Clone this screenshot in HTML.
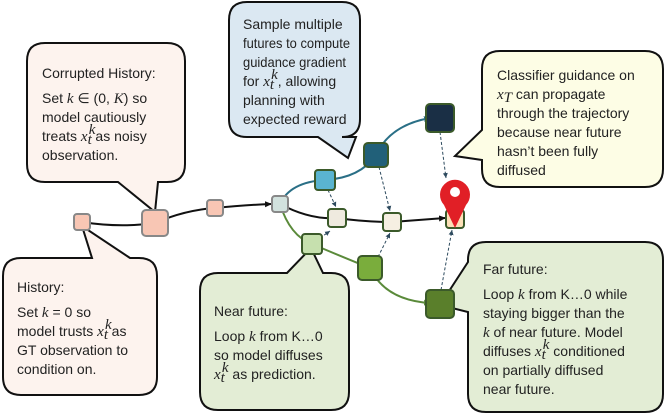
<!DOCTYPE html>
<html><head><meta charset="utf-8"><style>
body{margin:0;background:#fff}
svg text{font-family:"Liberation Sans",sans-serif;font-size:14px;fill:#222}
.m{font-family:"Liberation Serif",serif;font-style:italic;font-size:15px}
</style></head><body>
<svg width="664" height="414" viewBox="0 0 664 414" xmlns="http://www.w3.org/2000/svg">
<defs>
<marker id="ab" markerWidth="8" markerHeight="8" refX="6" refY="3" orient="auto" markerUnits="userSpaceOnUse"><path d="M0,0 L7,3 L0,6z" fill="#111"/></marker>
<marker id="at" markerWidth="8" markerHeight="8" refX="6" refY="3" orient="auto" markerUnits="userSpaceOnUse"><path d="M0,0 L7,3 L0,6z" fill="#2a6f86"/></marker>
<marker id="ag" markerWidth="8" markerHeight="8" refX="6" refY="3" orient="auto" markerUnits="userSpaceOnUse"><path d="M0,0 L7,3 L0,6z" fill="#5a8a3a"/></marker>
<marker id="ad" markerWidth="6" markerHeight="6" refX="5" refY="2.5" orient="auto" markerUnits="userSpaceOnUse"><path d="M0,0 L5,2.5 L0,5z" fill="#2d4a5e"/></marker>
</defs>

<path d="M45,43 H167 Q185,43 185,61 V164 Q185,182 167,182 H158 L155,212 L118,182 H45 Q27,182 27,164 V61 Q27,43 45,43Z" fill="#fdf3ee" stroke="#111" stroke-width="2"/>
<path d="M247,2 H342 Q360,2 360,20 V119 Q360,137 342,137 H356 L348,158 L318,137 H247 Q229,137 229,119 V20 Q229,2 247,2Z" fill="#dbe8f2" stroke="#111" stroke-width="2"/>
<path d="M500,51 H645 Q663,51 663,69 V169 Q663,187 645,187 H500 Q482,187 482,169 V160 L455,156 L482,130 V69 Q482,51 500,51Z" fill="#fdfde5" stroke="#111" stroke-width="2"/>
<path d="M21,258 H92 L82,226 L130,258 H139 Q157,258 157,276 V377 Q157,395 139,395 H21 Q3,395 3,377 V276 Q3,258 21,258Z" fill="#fdf3ee" stroke="#111" stroke-width="2"/>
<path d="M218,273 H287 L311,248 L323,273 H331 Q349,273 349,291 V392 Q349,410 331,410 H218 Q200,410 200,392 V291 Q200,273 218,273Z" fill="#e3edd5" stroke="#111" stroke-width="2"/>
<path d="M486,242 H645 Q663,242 663,260 V394 Q663,412 645,412 H486 Q468,412 468,394 V312 L440,305 L468,262 V260 Q468,242 486,242Z" fill="#e3edd5" stroke="#111" stroke-width="2"/>

<text x="42" y="78">Corrupted History:</text>
<text x="42" y="103">Set <tspan class="m">k</tspan> ∈ (0, <tspan class="m">K</tspan>) so</text>
<text x="42" y="122">model cautiously</text>
<text x="42" y="141">treats <tspan class="m">x</tspan><tspan class="m" font-size="11" dy="3">t</tspan><tspan class="m" font-size="11" dx="-3" dy="-10">k</tspan><tspan dy="7">as noisy</tspan></text>
<text x="42" y="160">observation.</text>

<text x="243" y="29">Sample multiple</text>
<text x="243" y="48" textLength="107" lengthAdjust="spacingAndGlyphs">futures to compute</text>
<text x="243" y="67" textLength="103" lengthAdjust="spacingAndGlyphs">guidance gradient</text>
<text x="243" y="86">for <tspan class="m">x</tspan><tspan class="m" font-size="11" dy="3">t</tspan><tspan class="m" font-size="11" dx="-3" dy="-10">k</tspan><tspan dy="7">, allowing</tspan></text>
<text x="243" y="105">planning with</text>
<text x="243" y="124">expected reward</text>

<text x="497" y="80">Classifier guidance on</text>
<text x="497" y="99"><tspan class="m">x</tspan><tspan class="m" font-size="11" dy="3">T</tspan><tspan dy="-3"> can propagate</tspan></text>
<text x="497" y="118">through the trajectory</text>
<text x="497" y="137">because near future</text>
<text x="497" y="156">hasn’t been fully</text>
<text x="497" y="175">diffused</text>

<text x="17" y="292">History:</text>
<text x="17" y="317">Set <tspan class="m">k</tspan> = 0 so</text>
<text x="17" y="336">model trusts <tspan class="m">x</tspan><tspan class="m" font-size="11" dy="3">t</tspan><tspan class="m" font-size="11" dx="-3" dy="-10">k</tspan><tspan dy="7">as</tspan></text>
<text x="17" y="355">GT observation to</text>
<text x="17" y="374">condition on.</text>

<text x="214" y="316">Near future:</text>
<text x="214" y="341">Loop <tspan class="m">k</tspan> from K…0</text>
<text x="214" y="360">so model diffuses</text>
<text x="214" y="379"><tspan class="m">x</tspan><tspan class="m" font-size="11" dy="3">t</tspan><tspan class="m" font-size="11" dx="-3" dy="-10">k</tspan><tspan dy="7"> as prediction.</tspan></text>

<text x="483" y="274">Far future:</text>
<text x="483" y="299">Loop <tspan class="m">k</tspan> from K…0 while</text>
<text x="483" y="318">staying bigger than the</text>
<text x="483" y="337"><tspan class="m">k</tspan> of near future. Model</text>
<text x="483" y="356">diffuses <tspan class="m">x</tspan><tspan class="m" font-size="11" dy="3">t</tspan><tspan class="m" font-size="11" dx="-3" dy="-10">k</tspan><tspan dy="7"> conditioned</tspan></text>
<text x="483" y="375">on partially diffused</text>
<text x="483" y="394">near future.</text>

<path d="M82,222 Q120,228 155,223 Q185,210 215,208 Q245,205 271,204" fill="none" stroke="#111" stroke-width="2" marker-end="url(#ab)"/>
<path d="M280,204 Q310,220 337,218 Q365,222 392,222 Q420,220 445,218" fill="none" stroke="#111" stroke-width="2" marker-end="url(#ab)"/>
<path d="M280,204 Q290,182 325,180 Q360,178 376,155 Q390,125 430,118" fill="none" stroke="#2a6f86" stroke-width="2" marker-end="url(#at)"/>
<path d="M280,204 Q290,236 312,244 Q345,258 370,268 Q385,300 430,303" fill="none" stroke="#5a8a3a" stroke-width="2" marker-end="url(#ag)"/>
<g stroke="#2d4a5e" stroke-width="1" stroke-dasharray="3,2" fill="none" marker-end="url(#ad)">
<path d="M440,132 L446,178"/>
<path d="M328,190 L336,207"/>
<path d="M379,167 L390,211"/>
<path d="M320,238 L330,231"/>
<path d="M378,257 L390,233"/>
<path d="M441,290 L452,230"/>
</g>

<g stroke-width="2">
<rect x="74" y="214" width="16" height="16" rx="3" fill="#f8c6b4" stroke="#888"/>
<rect x="142" y="210" width="26" height="26" rx="4" fill="#f8c6b4" stroke="#888"/>
<rect x="207" y="200" width="16" height="16" rx="3" fill="#f8c6b4" stroke="#888"/>
<rect x="272" y="196" width="16" height="16" rx="3" fill="#d2e2de" stroke="#888"/>
<rect x="315" y="170" width="20" height="20" rx="3" fill="#5ab4d0" stroke="#3b5a2a"/>
<rect x="364" y="143" width="24" height="24" rx="4" fill="#216079" stroke="#3b5a2a"/>
<rect x="426" y="104" width="28" height="28" rx="4" fill="#1a2f45" stroke="#3b5a2a"/>
<rect x="328" y="209" width="18" height="18" rx="3" fill="#efeadf" stroke="#3b5a2a"/>
<rect x="383" y="213" width="18" height="18" rx="3" fill="#f6efe2" stroke="#3b5a2a"/>
<rect x="446" y="210" width="18" height="18" rx="3" fill="#fde0b8" stroke="#3b5a2a"/>
<rect x="302" y="234" width="20" height="20" rx="3" fill="#c6e0ae" stroke="#3b5a2a"/>
<rect x="358" y="256" width="24" height="24" rx="4" fill="#7aad3c" stroke="#3b5a2a"/>
<rect x="426" y="290" width="28" height="28" rx="4" fill="#5a7f2b" stroke="#3b5a2a"/>
</g>
<path d="M455,228 L444,205 A15,15 0 1 1 466,205 Z" fill="#e11f26"/>
<circle cx="455" cy="192" r="5" fill="#fff"/>
</svg>
</body></html>
